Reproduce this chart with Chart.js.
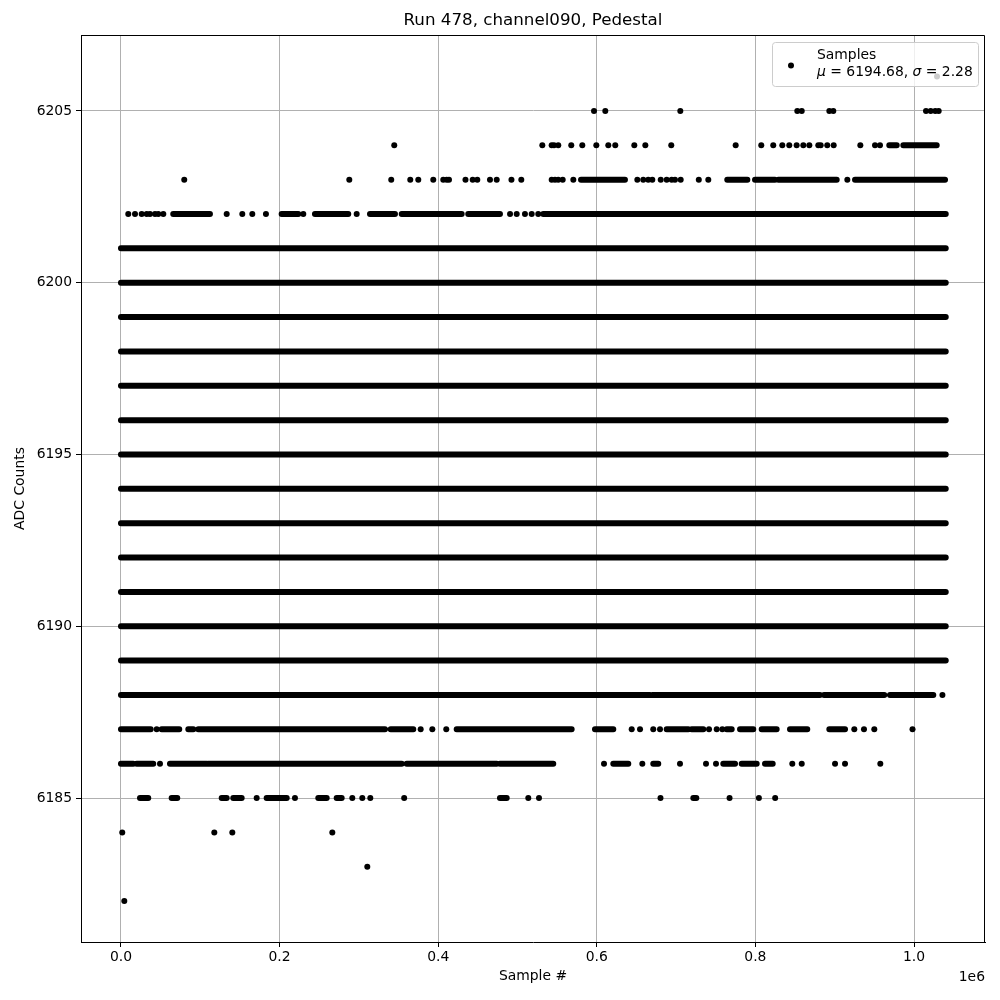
<!DOCTYPE html>
<html>
<head>
<meta charset="utf-8">
<script src="https://cdn.jsdelivr.net/npm/chart.js@4.4.0/dist/chart.umd.min.js"></script>
<style>
  html, body { margin: 0; padding: 0; background: #fff; }
</style>
</head>
<body>
<canvas id="adcChart" width="1000" height="1000"></canvas>
<script>
// sample positions in thousands of samples
var lastSample = 1040;
var fullRows = [6189, 6190, 6191, 6192, 6193, 6194, 6195, 6196, 6197, 6198, 6199, 6200, 6201];

var dots6206 = [1029.0];
var dots6205 = [596.5, 610.7, 705.3, 852.8, 858.4, 893.2, 898.2, 1015.1, 1021.0, 1026.8, 1031.1];
var dots6204 = [344.6, 531.3, 543.1, 546.0, 551.4, 567.8, 581.7, 599.4, 614.5, 623.3, 647.3, 661.2, 693.9,
  775.1, 807.4, 822.5, 833.9, 842.7, 852.0, 860.4, 868.0, 879.3, 882.3, 890.6, 898.7, 932.3, 950.8, 957.1];
var runs6204 = [[968.8, 978.2], [986.5, 1028.6]];
var dots6203 = [79.8, 287.9, 340.8, 364.8, 374.9, 393.8, 406.4, 410.7, 413.6, 434.4, 443.5, 449.3, 465.3,
  473.8, 492.4, 504.8, 543.1, 547.3, 551.4, 557.0, 570.4, 651.1, 658.6, 664.9, 670.0, 680.6, 688.1, 694.4,
  698.6, 705.8, 728.6, 740.6, 915.9];
var runs6203 = [[580.1, 635.5], [764.5, 789.8], [799.5, 824.7], [828.9, 902.5], [925.6, 1039.1]];
var dots6202 = [9.2, 17.7, 26.1, 32.4, 36.6, 42.9, 47.1, 53.4, 133.3, 153.0, 165.6, 182.8, 229.9, 297.2,
  490.6, 499.0, 509.4, 517.9, 526.2];
var runs6202 = [[65.9, 112.2], [202.6, 223.6], [244.6, 286.6], [314.0, 345.5], [354.0, 429.6],
  [437.9, 477.9], [532.5, 1040]];
var dots6188 = [1035.8];
var runs6188 = [[0, 667.1], [670.0, 881.4], [886.5, 962.5], [969.7, 1024.3]];
var dots6187 = [45.0, 377.9, 392.6, 410.2, 644.0, 654.5, 671.2, 679.7, 741.5, 751.2, 758.3, 924.7, 936.9, 949.9, 998.1];
var runs6187 = [[0, 37.5], [51.3, 73.5], [84.9, 91.2], [97.5, 332.9], [340.1, 368.6], [423.3, 568.3],
  [597.7, 620.8], [688.1, 715.4], [719.6, 734.3], [763.8, 770.1], [780.6, 797.3], [807.9, 826.8],
  [843.6, 865.4], [893.2, 913.0]];
var dots6186 = [49.2, 609.1, 657.4, 704.9, 737.7, 750.3, 846.5, 858.4, 900.4, 913.0, 957.5];
var runs6186 = [[0, 15.5], [19.8, 40.7], [61.8, 108.1], [110.1, 354.0], [360.3, 473.8], [477.9, 545.1],
  [620.8, 639.7], [671.2, 677.5], [759.5, 774.3], [782.7, 801.6], [812.1, 821.8]];
var dots6185 = [171.1, 219.4, 291.7, 304.3, 314.4, 357.1, 513.6, 527.1, 680.3, 767.4, 804.4, 824.9];
var runs6185 = [[24.0, 34.4], [63.9, 71.0], [127.0, 133.3], [141.6, 152.2], [183.7, 209.0], [248.8, 259.4],
  [272.0, 278.3], [477.9, 486.4], [721.7, 725.5]];
var dots6184 = [1.6, 117.7, 140.4, 266.5];
var dots6183 = [310.6];
var dots6182 = [4.2];

var xTicks = [0, 200000, 400000, 600000, 800000, 1000000];
var yTicks = [6185, 6190, 6195, 6200, 6205];
var meanText = "6194.68";
var sigmaText = "2.28";

var dotRows = {6206: dots6206, 6205: dots6205, 6204: dots6204, 6203: dots6203, 6202: dots6202,
  6188: dots6188, 6187: dots6187, 6186: dots6186, 6185: dots6185, 6184: dots6184, 6183: dots6183, 6182: dots6182};
var runRows = {6204: runs6204, 6203: runs6203, 6202: runs6202, 6188: runs6188, 6187: runs6187,
  6186: runs6186, 6185: runs6185};
fullRows.forEach(function (v) { runRows[v] = [[0, lastSample]]; });

var dotData = [];
Object.keys(dotRows).forEach(function (v) {
  dotRows[v].forEach(function (k) { dotData.push({x: k * 1000, y: Number(v)}); });
});
var runData = [];
Object.keys(runRows).forEach(function (v) {
  runRows[v].forEach(function (r) {
    runData.push({x: r[0] * 1000, y: Number(v)});
    runData.push({x: r[1] * 1000, y: Number(v)});
    runData.push({x: r[1] * 1000, y: null});
  });
});

var FONT = "'DejaVu Sans', sans-serif";

var decor = {
  id: "decor",
  afterDraw: function (chart) {
    var ctx = chart.ctx, a = chart.chartArea;
    ctx.save();
    // full box round the axes
    ctx.strokeStyle = "#000";
    ctx.lineWidth = 1;
    ctx.beginPath();
    ctx.moveTo(Math.round(a.left) + 0.5, Math.round(a.top) + 0.5);
    ctx.lineTo(Math.round(a.right) - 0.5, Math.round(a.top) + 0.5);
    ctx.lineTo(Math.round(a.right) - 0.5, Math.round(a.bottom) + 0.5);
    ctx.stroke();
    // title
    ctx.fillStyle = "#000";
    ctx.font = "16.7px " + FONT;
    ctx.textAlign = "center";
    ctx.textBaseline = "middle";
    ctx.fillText("Run 478, channel090, Pedestal", (a.left + a.right) / 2, 21);
    // offset text
    ctx.font = "13.9px " + FONT;
    ctx.textAlign = "right";
    ctx.fillText("1e6", a.right, 977);
    // legend
    var lx = 772.5, ly = 42.5, lw = 206, lh = 44, rr = 3;
    ctx.beginPath();
    ctx.moveTo(lx + rr, ly);
    ctx.arcTo(lx + lw, ly, lx + lw, ly + lh, rr);
    ctx.arcTo(lx + lw, ly + lh, lx, ly + lh, rr);
    ctx.arcTo(lx, ly + lh, lx, ly, rr);
    ctx.arcTo(lx, ly, lx + lw, ly, rr);
    ctx.closePath();
    ctx.fillStyle = "rgba(255,255,255,0.8)";
    ctx.fill();
    ctx.strokeStyle = "#cccccc";
    ctx.stroke();
    ctx.fillStyle = "#000";
    ctx.beginPath();
    ctx.arc(791, 65.5, 3, 0, Math.PI * 2);
    ctx.fill();
    ctx.textAlign = "left";
    ctx.font = "13.9px " + FONT;
    ctx.fillText("Samples", 817, 55);
    var x = 817, y = 72;
    var parts = [["\u03bc", true], [" = " + meanText + ", ", false], ["\u03c3", true], [" = " + sigmaText, false]];
    parts.forEach(function (p) {
      ctx.font = (p[1] ? "italic " : "") + "13.9px " + FONT;
      ctx.fillText(p[0], x, y);
      x += ctx.measureText(p[0]).width;
    });
    ctx.restore();
  }
};

var ctx = document.getElementById("adcChart").getContext("2d");
var chart = new Chart(ctx, {
  type: "scatter",
  data: {
    datasets: [
      {
        label: "Samples",
        data: dotData,
        backgroundColor: "#000",
        borderWidth: 0,
        pointRadius: 3,
        pointHoverRadius: 3
      },
      {
        label: "Samples (dense)",
        data: runData,
        showLine: true,
        spanGaps: false,
        borderColor: "#000",
        borderWidth: 6,
        borderCapStyle: "round",
        pointRadius: 0,
        pointHoverRadius: 0
      }
    ]
  },
  options: {
    responsive: false,
    animation: false,
    devicePixelRatio: 1,
    layout: { padding: { top: 35, right: 15, left: 0, bottom: 0 } },
    plugins: { legend: { display: false }, title: { display: false }, tooltip: { enabled: false } },
    scales: {
      x: {
        type: "linear",
        min: -50400,
        max: 1089500,
        afterFit: function (s) { s.height = 58; },
        afterBuildTicks: function (s) { s.ticks = xTicks.map(function (v) { return {value: v}; }); },
        ticks: {
          color: "#000",
          font: { family: FONT, size: 13.9 },
          padding: 2,
          maxRotation: 0,
          callback: function (v) { return (v / 1e6).toFixed(1); }
        },
        grid: { color: "#b0b0b0", lineWidth: 1, tickColor: "#000", tickLength: 5 },
        border: { display: true, color: "#000" },
        title: {
          display: true,
          text: "Sample #",
          color: "#000",
          font: { family: FONT, size: 13.9 },
          padding: { top: 4, bottom: 15 }
        }
      },
      y: {
        type: "linear",
        min: 6180.81,
        max: 6207.21,
        afterFit: function (s) { s.width = 81; },
        afterBuildTicks: function (s) { s.ticks = yTicks.map(function (v) { return {value: v}; }); },
        ticks: {
          color: "#000",
          font: { family: FONT, size: 13.9 },
          padding: 4,
          callback: function (v) { return String(v); }
        },
        grid: { color: "#b0b0b0", lineWidth: 1, tickColor: "#000", tickLength: 5 },
        border: { display: true, color: "#000" },
        title: {
          display: true,
          text: "ADC Counts",
          color: "#000",
          font: { family: FONT, size: 13.9 },
          padding: { top: 12.5, bottom: 4 }
        }
      }
    }
  },
  plugins: [decor]
});
</script>
</body>
</html>
